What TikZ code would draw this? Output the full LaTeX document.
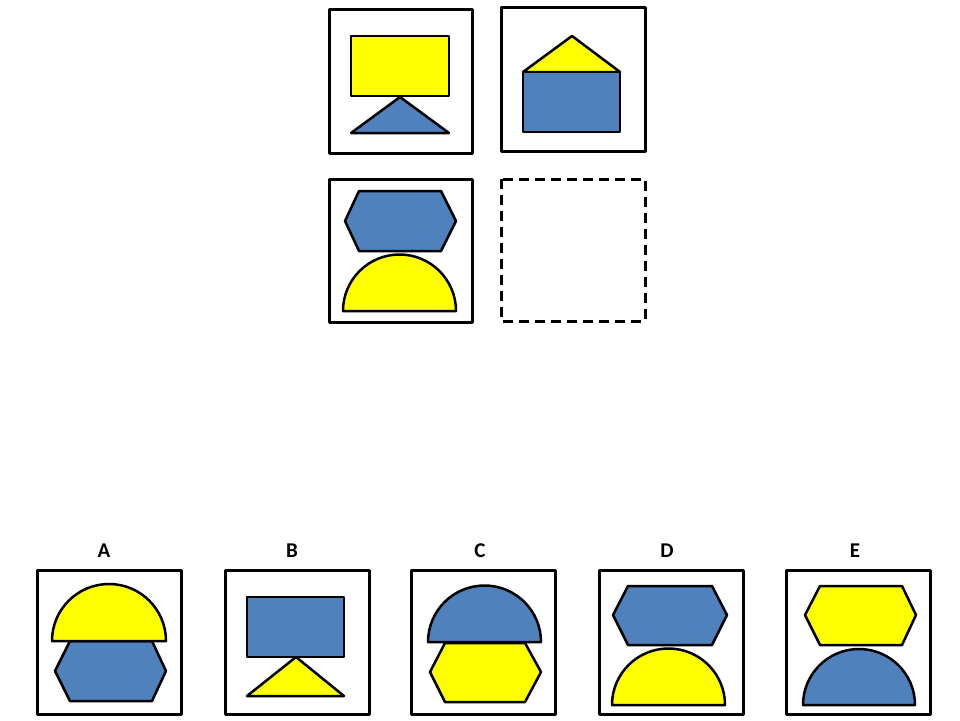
\documentclass[tikz,border=0pt]{standalone}
\usepackage{fontspec}
\setsansfont{Carlito}
\definecolor{blueshape}{HTML}{4F81BD}
\definecolor{yellowshape}{HTML}{FFFF00}
\begin{document}
\begin{tikzpicture}[x=1pt, y=-1pt, line join=round,
    every node/.style={font=\sffamily\bfseries\fontsize{21}{25}\selectfont},
    frame/.style={line width=3pt, black},
    piece/.style={line width=2.5pt, black}]
    \useasboundingbox (0,0) rectangle (960,720);

    % Верхний ряд: прямоугольник и треугольник
    \draw[frame] (329,9) rectangle (472,153);
    \draw[piece, fill=yellowshape] (351,36) rectangle (449,96);
    \draw[piece, fill=blueshape] (351,133) -- (400,97) -- (449,133) -- cycle;

    \draw[frame] (501,7) rectangle (645,151);
    \draw[piece, fill=yellowshape] (523,72) -- (572,36) -- (620,72) -- cycle;
    \draw[piece, fill=blueshape] (523,72) rectangle (620,132);

    % Второй ряд: шестиугольник и полукруг, пустая клетка
    \draw[frame] (329,179) rectangle (472,322);
    \draw[piece, fill=blueshape] (345,221) -- (359,191) -- (441,191) -- (456,221) -- (441,251) -- (359,251) -- cycle;
    \draw[piece, fill=yellowshape] (343,311) arc (180:360:56.5) -- cycle;

    \draw[frame, dash pattern=on 10pt off 6pt] (501,179) rectangle (645,321);

    % Вариант A
    \node (labA) at (104,551) {A};
    \draw[frame] (37,570) rectangle (181,714);
    \draw[piece, fill=blueshape] (55,671) -- (70,641) -- (152,641) -- (166,671) -- (152,701) -- (70,701) -- cycle;
    \draw[piece, fill=yellowshape] (52,641) arc (180:360:57) -- cycle;

    % Вариант B
    \node (labB) at (292,551) {B};
    \draw[frame] (225,570) rectangle (369,714);
    \draw[piece, fill=blueshape] (247,597) rectangle (344,657);
    \draw[piece, fill=yellowshape] (247,696) -- (296,657) -- (344,696) -- cycle;

    % Вариант C
    \node (labC) at (480,551) {C};
    \draw[frame] (411,570) rectangle (555,714);
    \draw[piece, fill=yellowshape] (430,672) -- (445,643) -- (525,643) -- (541,672) -- (525,702) -- (445,702) -- cycle;
    \draw[piece, fill=blueshape] (428,642) arc (180:360:56.5) -- cycle;

    % Вариант D
    \node (labD) at (667,551) {D};
    \draw[frame] (599,570) rectangle (743,714);
    \draw[piece, fill=blueshape] (613,615) -- (628,586) -- (712,586) -- (727,615) -- (712,645) -- (628,645) -- cycle;
    \draw[piece, fill=yellowshape] (612,705) arc (180:360:56.5) -- cycle;

    % Вариант E
    \node (labE) at (855,551) {E};
    \draw[frame] (786,570) rectangle (930,714);
    \draw[piece, fill=yellowshape] (805,615) -- (820,586) -- (902,586) -- (916,615) -- (902,645) -- (820,645) -- cycle;
    \draw[piece, fill=blueshape] (803,705) arc (180:360:56) -- cycle;
\end{tikzpicture}
\end{document}
